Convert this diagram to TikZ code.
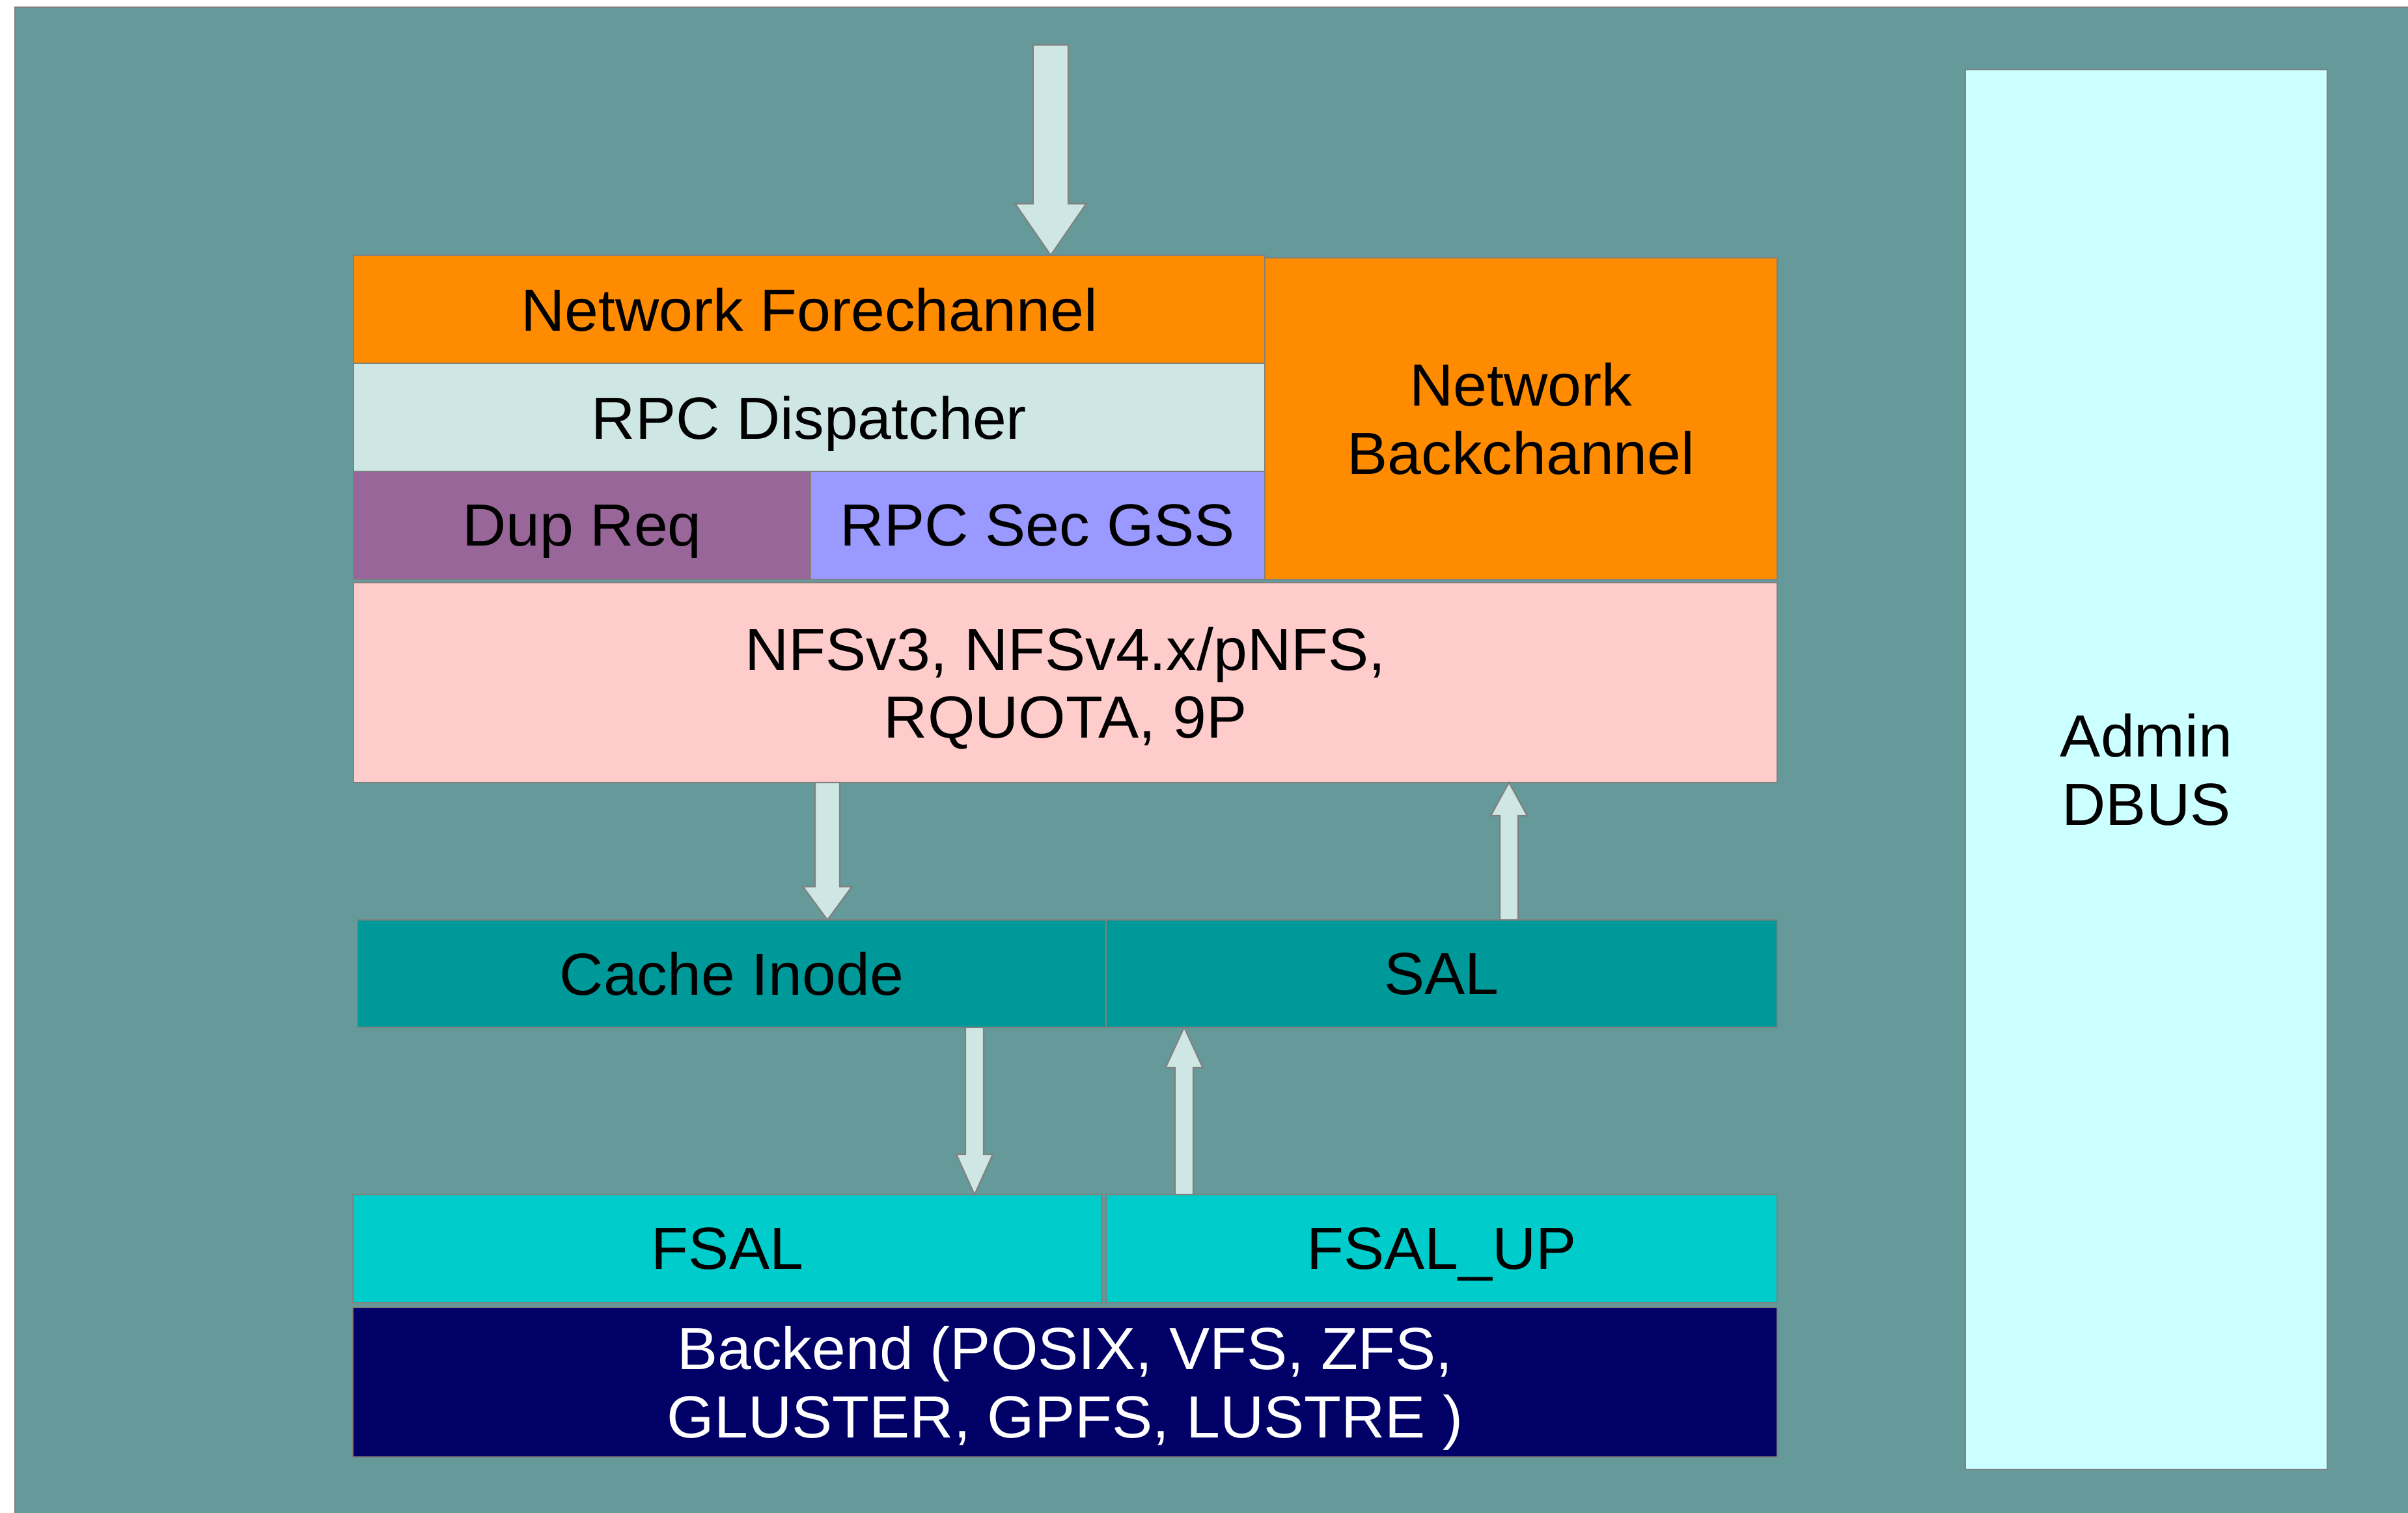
\documentclass[tikz,border=0pt]{standalone}
\usepackage{fontspec}
\setmainfont{Liberation Sans}[FakeStretch=1.02]
\usetikzlibrary{calc}

\definecolor{bgteal}{RGB}{102,153,153}
\definecolor{netorange}{RGB}{255,140,0}
\definecolor{paleblue}{RGB}{207,231,228}
\definecolor{dupviolet}{RGB}{153,102,153}
\definecolor{gsslilac}{RGB}{153,153,255}
\definecolor{protopink}{RGB}{255,204,204}
\definecolor{cachegreen}{RGB}{0,153,153}
\definecolor{fsalcyan}{RGB}{0,204,204}
\definecolor{backnavy}{RGB}{0,0,102}
\definecolor{adminice}{RGB}{204,255,255}
\definecolor{edgegray}{RGB}{128,128,128}

% block arrow: from, to, shaft half width, head half width, head length
\newcommand{\fatarrow}[5]{%
  \coordinate (fa-a) at #1;
  \coordinate (fa-b) at #2;
  \coordinate (fa-h) at ($(fa-b)!#5!(fa-a)$);
  \draw[flow] ($(fa-a)!#3!90:(fa-b)$) -- ($(fa-h)!#3!-90:(fa-a)$) -- ($(fa-h)!#4!-90:(fa-a)$)
     -- (fa-b) -- ($(fa-h)!#4!90:(fa-a)$) -- ($(fa-h)!#3!90:(fa-a)$) -- ($(fa-a)!#3!-90:(fa-b)$) -- cycle;
}

\begin{document}
\begin{tikzpicture}[
    layer/.style={draw=edgegray, line width=0.6pt, inner sep=0pt, outer sep=0pt, align=center,
      font=\fontsize{26}{29.8}\selectfont, text depth=0pt},
    flow/.style={draw=edgegray, line width=0.6pt, fill=paleblue, line join=miter}]
  \useasboundingbox (0,0) rectangle (36.99,23.24);
  \fill[bgteal] (0.23,0) rectangle (36.99,23.13);
  \draw[edgegray, line width=0.8pt] (0.23,0) -- (0.23,23.13) -- (36.99,23.13);

  \node[layer, fill=netorange, minimum width=14.00cm, minimum height=1.66cm] (fore) at (12.43,18.49) {Network Forechannel};
  \node[layer, fill=paleblue, minimum width=14.00cm, minimum height=1.66cm] (disp) at (12.43,16.83) {RPC Dispatcher};
  \node[layer, fill=dupviolet, minimum width=7.02cm, minimum height=1.66cm] (dup) at (8.94,15.17) {Dup Req};
  \node[layer, fill=gsslilac, minimum width=6.98cm, minimum height=1.66cm] (gss) at (15.94,15.17) {RPC Sec GSS};
  \node[layer, fill=netorange, minimum width=7.87cm, minimum height=4.94cm] (back) at (23.365,16.81) {Network\\Backchannel};
  \node[layer, fill=protopink, minimum width=21.87cm, minimum height=3.07cm] (nfs) at (16.365,12.755) {NFSv3, NFSv4.x/pNFS,\\RQUOTA, 9P};
  \node[layer, fill=cachegreen, minimum width=11.50cm, minimum height=1.65cm] (cache) at (11.24,8.285) {Cache Inode};
  \node[layer, fill=cachegreen, minimum width=10.31cm, minimum height=1.65cm] (sal) at (22.145,8.285) {SAL};
  \node[layer, fill=fsalcyan, minimum width=11.51cm, minimum height=1.66cm] (fsal) at (11.175,4.06) {FSAL};
  \node[layer, fill=fsalcyan, minimum width=10.31cm, minimum height=1.66cm] (fsalup) at (22.145,4.06) {FSAL\_UP};
  \node[layer, fill=backnavy, text=white, minimum width=21.88cm, minimum height=2.30cm] (backend) at (16.36,2.01) {Backend (POSIX, VFS, ZFS,\\GLUSTER, GPFS, LUSTRE )};
  \node[layer, fill=adminice, minimum width=5.56cm, minimum height=21.50cm] (admin) at (32.97,11.42) {Admin\\DBUS};

  % arrow columns
  \coordinate (in) at (16.14,22.55);
  \coordinate (down1) at (12.71,0);
  \coordinate (up1) at (23.18,0);
  \coordinate (down2) at (14.97,0);
  \coordinate (up2) at (18.19,0);

  \fatarrow{(in)}{(fore.north -| in)}{0.27cm}{0.545cm}{0.79cm}
  \fatarrow{(nfs.south -| down1)}{(cache.north -| down1)}{0.19cm}{0.375cm}{0.51cm}
  \fatarrow{(sal.north -| up1)}{(nfs.south -| up1)}{0.14cm}{0.28cm}{0.51cm}
  \fatarrow{(cache.south -| down2)}{(fsal.north -| down2)}{0.14cm}{0.28cm}{0.62cm}
  \fatarrow{(fsalup.north -| up2)}{(sal.south -| up2)}{0.14cm}{0.285cm}{0.62cm}
\end{tikzpicture}
\end{document}
